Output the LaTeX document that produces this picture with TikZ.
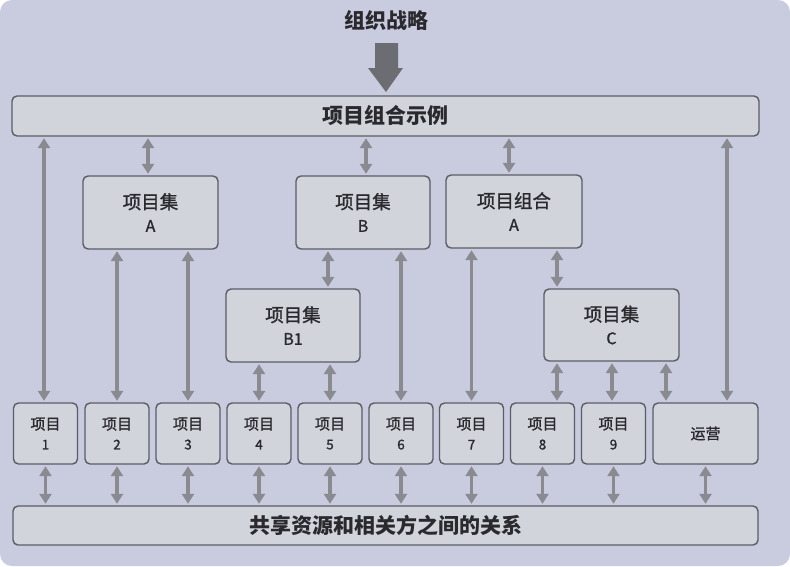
\documentclass[tikz,border=0pt]{standalone}
\usepackage{fontspec}
\setmainfont{Noto Sans CJK SC}
\newfontfamily\medfont[FakeBold=1.3]{Noto Sans CJK SC}
\usetikzlibrary{arrows.meta}
\definecolor{bgc}{HTML}{C9CCDF}
\definecolor{boxfill}{HTML}{D2D4DC}
\definecolor{boxline}{HTML}{5A5C66}
\definecolor{arrc}{HTML}{8A8B91}
\definecolor{bigarr}{HTML}{6C6D72}
\definecolor{txt}{HTML}{2A2A2E}
\tikzset{
  box/.style={draw=boxline, fill=boxfill, line width=1.4pt, rounded corners=5pt,
    inner sep=0pt, align=center, text=txt},
  bar/.style={box, font=\fontsize{21}{24}\selectfont\bfseries},
  midbox/.style={box, minimum height=73pt, font=\medfont\fontsize{18.5}{23}\selectfont},
  smallbox/.style={box, minimum height=61pt, minimum width=64pt, font=\medfont\fontsize{15}{20}\selectfont},
  arr/.style={draw=arrc, line width=3.8pt, shorten >=1.5pt, shorten <=1.5pt,
    {Triangle[length=10pt,width=12pt]}-{Triangle[length=10pt,width=12pt]}},
}
\newcommand{\lat}[1]{{\fontsize{16}{20}\selectfont #1}}
\newcommand{\num}[1]{{\fontsize{13.5}{18}\selectfont #1}}
\begin{document}
\begin{tikzpicture}[x=1pt,y=-1pt]
\useasboundingbox (0,0) rectangle (790,566);
\fill[white] (0,0) rectangle (790,566);
\fill[bgc, rounded corners=12pt] (0,0) rectangle (790,566);
% title and big arrow
\node[font=\fontsize{21}{24}\selectfont\bfseries, text=txt] (title) at (386,20) {组织战略};
\fill[bigarr] (375,43) -- (398,43) -- (398,68) -- (403,68) -- (386,92) -- (368,68) -- (375,68) -- cycle;
% bars
\node[bar, minimum width=747pt, minimum height=40pt] (top) at (385.5,116) {项目组合示例};
\node[bar, minimum width=745pt, minimum height=39pt] (bot) at (385.5,525.5) {共享资源和相关方之间的关系};
% middle boxes
\node[midbox, minimum width=135pt] (A) at (150.5,212.5) {项目集\\\lat{A}};
\node[midbox, minimum width=134pt] (B) at (363,212.5) {项目集\\\lat{B}};
\node[midbox, minimum width=136pt] (PA) at (514,211.5) {项目组合\\\lat{A}};
\node[midbox, minimum width=134pt] (B1) at (293,325.5) {项目集\\\lat{B1}};
\node[midbox, minimum width=135pt, minimum height=72pt] (C) at (611.5,325) {项目集\\\lat{C}};
% small boxes
\node[smallbox] (p1) at (45.5,433.5) {项目\\\num{1}};
\node[smallbox] (p2) at (117,433.5) {项目\\\num{2}};
\node[smallbox] (p3) at (188,433.5) {项目\\\num{3}};
\node[smallbox] (p4) at (259,433.5) {项目\\\num{4}};
\node[smallbox] (p5) at (330,433.5) {项目\\\num{5}};
\node[smallbox] (p6) at (401,433.5) {项目\\\num{6}};
\node[smallbox] (p7) at (471.5,433.5) {项目\\\num{7}};
\node[smallbox] (p8) at (542.5,433.5) {项目\\\num{8}};
\node[smallbox] (p9) at (613.5,433.5) {项目\\\num{9}};
\node[smallbox, minimum width=105pt] (ops) at (705.5,433.5) {运营};
% x positions
\coordinate (x1) at (44,0);
\coordinate (xA) at (148,0);
\coordinate (xB) at (366,0);
\coordinate (xPA) at (509,0);
\coordinate (xOps) at (727,0);
\coordinate (xB1) at (328,0);
\coordinate (xC) at (557,0);
\coordinate (x8) at (557,0);
\coordinate (x9) at (612,0);
\coordinate (x10) at (666,0);
% arrows from top bar
\draw[arr] (top.south -| x1) -- (p1.north -| x1);
\draw[arr] (top.south -| xA) -- (A.north -| xA);
\draw[arr] (top.south -| xB) -- (B.north -| xB);
\draw[arr] (top.south -| xPA) -- (PA.north -| xPA);
\draw[arr] (top.south -| xOps) -- (ops.north -| xOps);
% A
\draw[arr] (A.south -| p2.north) -- (p2.north);
\draw[arr] (A.south -| p3.north) -- (p3.north);
% B
\draw[arr] (B.south -| xB1) -- (B1.north -| xB1);
\draw[arr] (B.south -| p6.north) -- (p6.north);
% B1
\draw[arr] (B1.south -| p4.north) -- (p4.north);
\draw[arr] (B1.south -| p5.north) -- (p5.north);
% PA
\draw[arr] (PA.south -| p7.north) -- (p7.north);
\draw[arr] (PA.south -| xC) -- (C.north -| xC);
% C
\draw[arr] (C.south -| x8) -- (p8.north -| x8);
\draw[arr] (C.south -| x9) -- (p9.north -| x9);
\draw[arr] (C.south -| x10) -- (ops.north -| x10);
% bottom arrows
\foreach \p in {p1,p2,p3,p4,p5,p6,p7,p8,p9,ops}{
  \draw[arr] (\p.south) -- (\p.south |- bot.north);
}
\end{tikzpicture}
\end{document}
